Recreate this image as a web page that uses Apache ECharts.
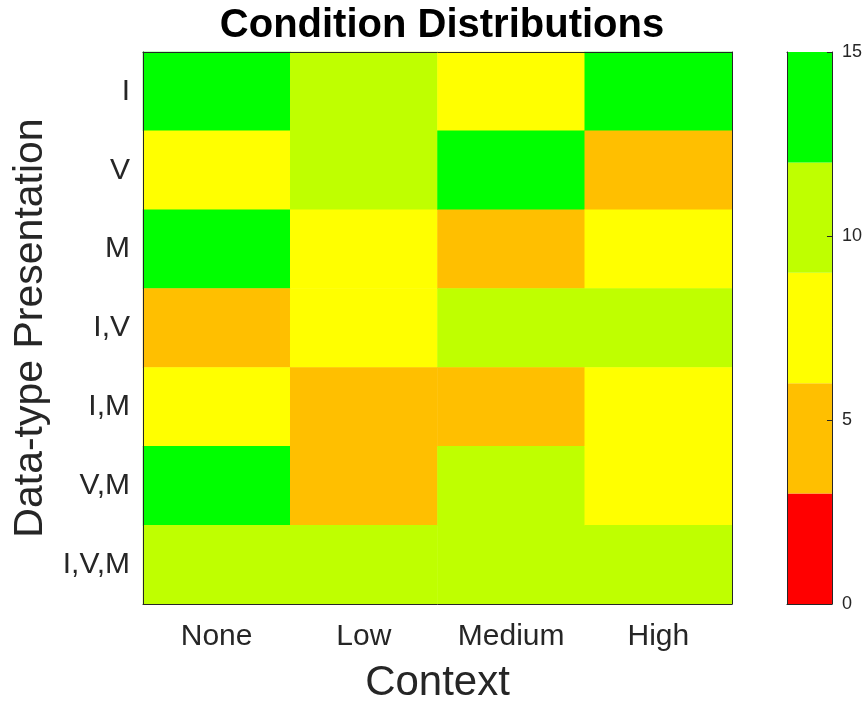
<!DOCTYPE html>
<html><head><meta charset="utf-8">
<script src="https://cdn.jsdelivr.net/npm/echarts@6/dist/echarts.min.js"></script>
<style>html,body{margin:0;padding:0;background:#fff}#c{width:865px;height:709px}</style>
</head><body><div id="c"></div>
<script>
const contexts = ['None', 'Low', 'Medium', 'High'];
const presentations = ['I', 'V', 'M', 'I,V', 'I,M', 'V,M', 'I,V,M'];
// rows top to bottom, columns None..High (estimated from colour bands)
const valuesNone   = [13, 8, 13, 5, 8, 13, 11];
const valuesLow    = [11, 11, 8, 8, 5, 5, 11];
const valuesMedium = [8, 13, 5, 11, 5, 11, 11];
const valuesHigh   = [13, 5, 8, 11, 8, 8, 11];
const colorbarTicks = [0, 5, 10, 15];
const colorBands = [
  {min: 0, max: 3, color: '#ff0000'},
  {min: 3, max: 6, color: '#ffbf00'},
  {min: 6, max: 9, color: '#ffff00'},
  {min: 9, max: 12, color: '#bfff00'},
  {min: 12, max: 15, color: '#00ff00'}
];

const cols = [valuesNone, valuesLow, valuesMedium, valuesHigh];
const heatData = [];
cols.forEach((col, xi) => col.forEach((v, yi) => heatData.push([xi, yi, v])));

const axisColor = '#262626';
const font = 'Liberation Sans, Arial, sans-serif';
const chart = echarts.init(document.getElementById('c'));
chart.setOption({
  animation: false,
  textStyle: {fontFamily: font},
  title: {text: 'Condition Distributions', left: 437, top: 1, textAlign: 'center',
    textStyle: {fontSize: 40, fontWeight: 'bold', color: '#000', fontFamily: font}},
  grid: [
    {left: 143, top: 52, width: 589, height: 552},
    {left: 787, top: 52, width: 45, height: 552}
  ],
  visualMap: {show: false, type: 'piecewise', seriesIndex: 0, dimension: 2,
    pieces: colorBands.map(b => ({gte: b.min, lt: b.max, color: b.color}))},
  xAxis: [
    {type: 'category', data: contexts, gridIndex: 0, position: 'bottom',
      name: 'Context', nameLocation: 'middle', nameGap: 58,
      nameTextStyle: {fontSize: 42, color: axisColor},
      axisLine: {lineStyle: {color: axisColor}},
      axisTick: {inside: true, alignWithLabel: true, length: 5, lineStyle: {color: axisColor}},
      axisLabel: {fontSize: 30, color: axisColor, margin: 18},
      splitLine: {show: false}, z: 10},
    {type: 'category', data: contexts, gridIndex: 0, position: 'top',
      axisLine: {lineStyle: {color: axisColor}},
      axisTick: {inside: true, alignWithLabel: true, length: 5, lineStyle: {color: axisColor}},
      axisLabel: {show: false}, z: 10},
    {type: 'category', data: [''], gridIndex: 1,
      axisLine: {show: true, onZero: false, lineStyle: {color: axisColor}}, axisTick: {show: false}, axisLabel: {show: false}},
    {type: 'category', data: [''], gridIndex: 1, position: 'top',
      axisLine: {show: true, onZero: false, lineStyle: {color: axisColor}}, axisTick: {show: false}, axisLabel: {show: false}}
  ],
  yAxis: [
    {type: 'category', data: presentations, inverse: true, gridIndex: 0, position: 'left',
      name: 'Data-type Presentation', nameLocation: 'middle', nameGap: 92, nameRotate: 90,
      nameTextStyle: {fontSize: 41, color: axisColor},
      axisLine: {lineStyle: {color: axisColor}},
      axisTick: {inside: true, alignWithLabel: true, length: 5, lineStyle: {color: axisColor}},
      axisLabel: {fontSize: 30, color: axisColor, margin: 13}, z: 10},
    {type: 'category', data: presentations, inverse: true, gridIndex: 0, position: 'right',
      axisLine: {lineStyle: {color: axisColor}},
      axisTick: {inside: true, alignWithLabel: true, length: 5, lineStyle: {color: axisColor}},
      axisLabel: {show: false}, z: 10},
    {type: 'value', gridIndex: 1, min: 0, max: 15, interval: 5, position: 'right',
      axisLine: {show: true, lineStyle: {color: axisColor}},
      axisTick: {show: true, inside: true, length: 5, lineStyle: {color: axisColor}},
      axisLabel: {fontSize: 18, color: axisColor, margin: 10},
      splitLine: {show: false}, z: 10},
    {type: 'value', gridIndex: 1, min: 0, max: 15, interval: 5, position: 'left',
      axisLine: {show: true, lineStyle: {color: axisColor}},
      axisTick: {show: false}, axisLabel: {show: false}, splitLine: {show: false}, z: 10}
  ],
  series: [
    {type: 'heatmap', xAxisIndex: 0, yAxisIndex: 0, data: heatData, itemStyle: {borderWidth: 0}},
    ...colorBands.map(b => ({
      type: 'bar', xAxisIndex: 2, yAxisIndex: 2, stack: 'cb', barWidth: '100%',
      data: [b.max - b.min], itemStyle: {color: b.color}, silent: true
    }))
  ]
});
</script></body></html>
